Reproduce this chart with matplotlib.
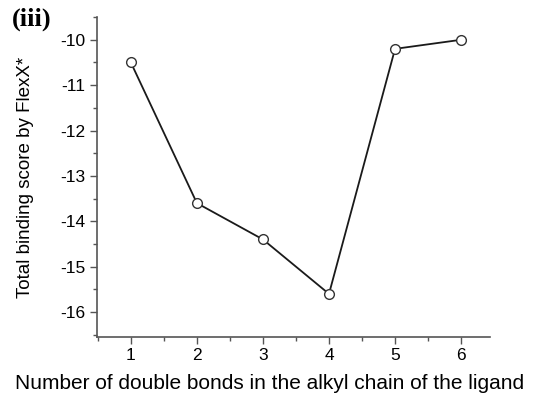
import matplotlib
matplotlib.use('Agg')
import matplotlib.pyplot as plt
from matplotlib.ticker import MultipleLocator

# 数据
bonds = [1, 2, 3, 4, 5, 6]
scores = [-10.5, -13.6, -14.4, -15.6, -10.2, -10.0]

plt.rcParams['font.family'] = ['Liberation Sans', 'DejaVu Sans']
plt.rcParams['axes.unicode_minus'] = False

fig = plt.figure(figsize=(5.41, 3.93), dpi=100)
ax = fig.add_axes([0.179, 0.1425, 0.727, 0.814])

ax.plot(bonds, scores, color='#1a1a1a', lw=1.3, marker='o', ms=7,
        mfc='white', mec='#333333', mew=1.0, zorder=3)

ax.set_xlim(0.485, 6.44)
ax.set_ylim(-16.55, -9.5)
ax.xaxis.set_major_locator(MultipleLocator(1))
ax.xaxis.set_minor_locator(MultipleLocator(0.5))
ax.yaxis.set_major_locator(MultipleLocator(1))
ax.yaxis.set_minor_locator(MultipleLocator(0.5))

for s in ['top', 'right']:
    ax.spines[s].set_visible(False)
for s in ['left', 'bottom']:
    ax.spines[s].set_color('#555555')
    ax.spines[s].set_linewidth(1.2)

ax.tick_params(which='major', direction='out', length=5, width=1, color='#555555',
               labelsize=12.5, pad=3)
ax.tick_params(which='minor', direction='out', length=3, width=1, color='#555555')

ax.set_ylabel('Total binding score by FlexX*', fontsize=13.5)
ax.yaxis.set_label_coords(-0.16, 0.5)
ax.set_xlabel('Number of double bonds in the alkyl chain of the ligand', fontsize=15)
ax.xaxis.set_label_coords(0.44, -0.115)
ax.xaxis.label.set_va('top')

fig.text(0.022, 0.98, '(iii)', fontsize=19, fontweight='bold', family='Liberation Serif',
         ha='left', va='top')

fig.savefig('out.png', dpi=100)
